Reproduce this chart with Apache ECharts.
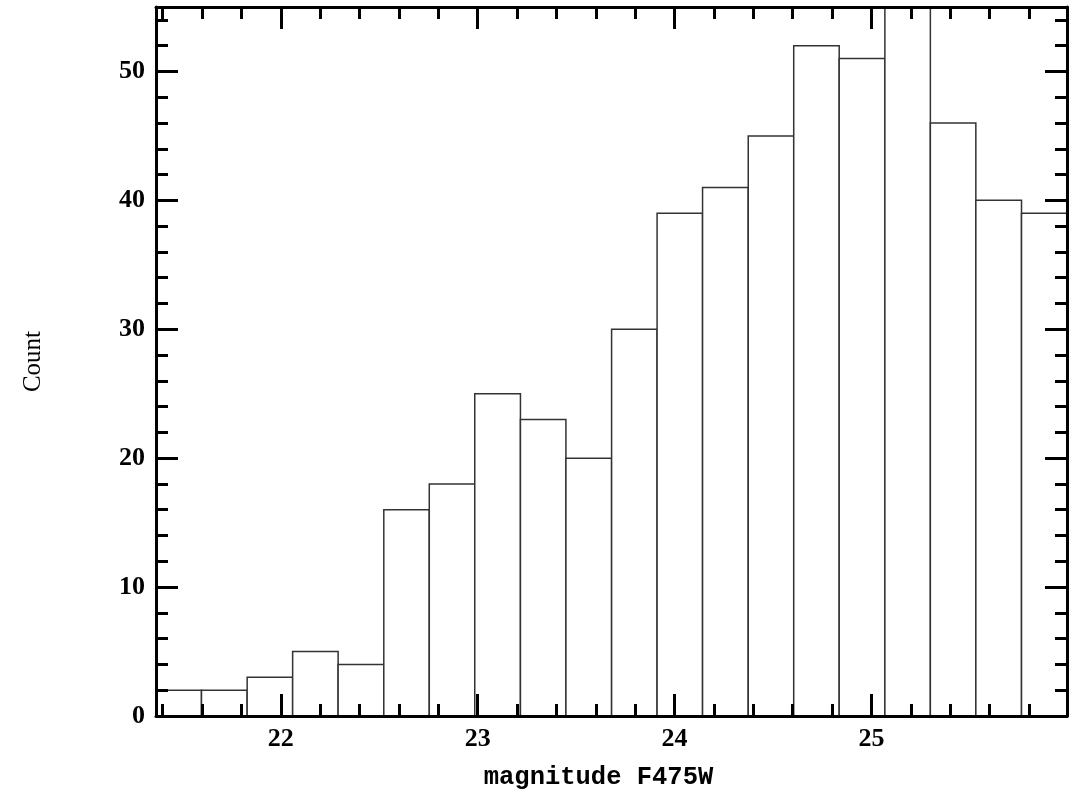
<!DOCTYPE html>
<html>
<head>
<meta charset="utf-8">
<script src="https://cdn.jsdelivr.net/npm/echarts@6/dist/echarts.min.js"></script>
<style>
html,body{margin:0;padding:0;background:#fff;}
#chart{width:1075px;height:796px;}
</style>
</head>
<body>
<div id="chart"></div>
<script>
// Bin edges (magnitude) and counts
const binEdges = [21.366, 21.597, 21.829, 22.060, 22.291, 22.523, 22.754, 22.985, 23.217, 23.448,
                  23.680, 23.911, 24.142, 24.374, 24.605, 24.836, 25.068, 25.299, 25.530, 25.762, 25.993];
const counts = [2, 2, 3, 5, 4, 16, 18, 25, 23, 20, 30, 39, 41, 45, 52, 51, 57, 46, 40, 39];

const xRange = [21.366, 25.993];
const yRange = [0, 55];
const xMajorTicks = [22, 23, 24, 25];
const xMinorTicks = [21.4, 21.6, 21.8, 22.2, 22.4, 22.6, 22.8, 23.2, 23.4, 23.6, 23.8,
                     24.2, 24.4, 24.6, 24.8, 25.2, 25.4, 25.6, 25.8];
const yMajorTicks = [0, 10, 20, 30, 40, 50];
const yMinorTicks = [2, 4, 6, 8, 12, 14, 16, 18, 22, 24, 26, 28, 32, 34, 36, 38, 42, 44, 46, 48, 52, 54];

const xTitle = 'magnitude F475W';
const yTitle = 'Count';

const labelFont = { fontFamily: 'Liberation Serif', fontSize: 26, color: '#000', fontWeight: 'bold' };

function xAx(pos, major, withLabel) {
  return {
    type: 'value', position: pos, min: xRange[0], max: xRange[1], z: 10,
    splitLine: { show: false },
    axisLine: { show: major, onZero: false, lineStyle: { color: '#000', width: 3 } },
    axisTick: { show: true, inside: true, length: major ? 22 : 12,
                customValues: major ? xMajorTicks : xMinorTicks,
                lineStyle: { color: '#000', width: 3 } },
    axisLabel: withLabel ? Object.assign({ show: true, margin: 10, customValues: xMajorTicks }, labelFont) : { show: false },
    name: withLabel ? xTitle : '',
    nameLocation: 'middle', nameGap: 49,
    nameTextStyle: { fontFamily: 'Liberation Mono', fontSize: 25.5, fontWeight: 'bold', color: '#000', padding: [0, 26, 0, 0] }
  };
}
function yAx(pos, major, withLabel) {
  return {
    type: 'value', position: pos, min: yRange[0], max: yRange[1], z: 10,
    splitLine: { show: false },
    axisLine: { show: major, onZero: false, lineStyle: { color: '#000', width: 3 } },
    axisTick: { show: true, inside: true, length: major ? 22 : 12,
                customValues: major ? yMajorTicks : yMinorTicks,
                lineStyle: { color: '#000', width: 3 } },
    axisLabel: withLabel ? Object.assign({ show: true, margin: 11, customValues: yMajorTicks }, labelFont) : { show: false },
    name: withLabel ? yTitle : '',
    nameLocation: 'middle', nameGap: 110,
    nameTextStyle: { fontFamily: 'Liberation Serif', fontSize: 25, color: '#000' }
  };
}

const chart = echarts.init(document.getElementById('chart'), null, { renderer: 'canvas' });
chart.setOption({
  backgroundColor: '#fff',
  animation: false,
  grid: { left: 156, top: 7, width: 911, height: 709, containLabel: false },
  xAxis: [xAx('bottom', true, true), xAx('bottom', false, false), xAx('top', true, false), xAx('top', false, false)],
  yAxis: [yAx('left', true, true), yAx('left', false, false), yAx('right', true, false), yAx('right', false, false)],
  series: [{
    type: 'custom',
    xAxisIndex: 0, yAxisIndex: 0,
    clip: true,
    z: 2,
    data: counts.map((c, i) => [binEdges[i], binEdges[i + 1], c]),
    encode: { x: [0, 1], y: 2 },
    renderItem: function (params, api) {
      const p0 = api.coord([api.value(0), api.value(2)]);
      const p1 = api.coord([api.value(1), 0]);
      return {
        type: 'rect',
        shape: { x: p0[0], y: p0[1], width: p1[0] - p0[0], height: p1[1] - p0[1] },
        style: { fill: '#fff', stroke: '#333', lineWidth: 1.5 }
      };
    }
  }]
});
</script>
</body>
</html>
